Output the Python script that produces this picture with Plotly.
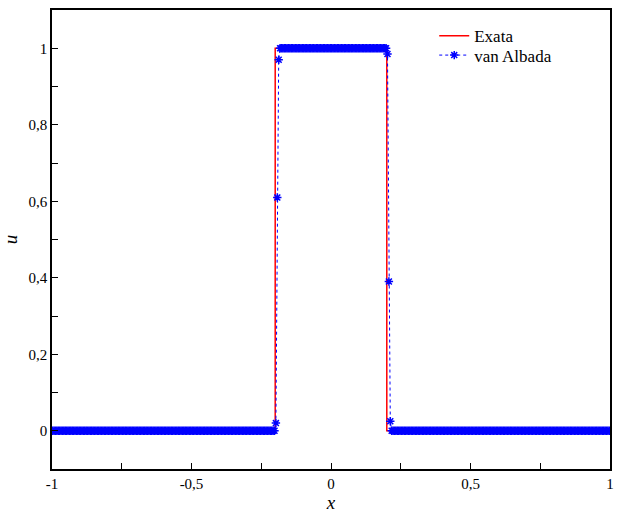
import plotly.graph_objects as go
import numpy as np

# Exact solution (square pulse)
x_exact = [-1.0, -0.2, -0.2, 0.2, 0.2, 1.0]
u_exact = [0.0, 0.0, 1.0, 1.0, 0.0, 0.0]

# van Albada numerical solution on a uniform mesh of 400 cells (cell centres)
n_cells = 400
x_num = np.round(np.linspace(-1 + 0.0025, 1 - 0.0025, n_cells), 4)
u_num = ([0.0] * 160 + [0.02, 0.61, 0.97] + [1.0] * 77
         + [0.985, 0.39, 0.025] + [0.0] * 157)

xtick_vals = [-1, -0.5, 0, 0.5, 1]
xtick_text = ["-1", "-0,5", "0", "0,5", "1"]
ytick_vals = [0, 0.2, 0.4, 0.6, 0.8, 1]
ytick_text = ["0", "0,2", "0,4", "0,6", "0,8", "1"]

FONT = "Liberation Serif, Times New Roman, Times, serif"

fig = go.Figure()
fig.add_trace(go.Scatter(x=x_exact, y=u_exact, mode="lines", name="Exata",
                         line=dict(color="#ff0000", width=1.5), legend="legend"))
fig.add_trace(go.Scatter(x=x_num, y=u_num, mode="lines+markers", name="van Albada",
                         line=dict(color="#0000ff", width=1, dash="dot"),
                         marker=dict(symbol="asterisk-open", size=7,
                                     line=dict(color="#0000ff", width=1.5)),
                         legend="legend2"))

axis_common = dict(showline=True, linecolor="black", linewidth=1.5, mirror=True,
                   showgrid=False, zeroline=False, ticks="inside", ticklen=6,
                   tickcolor="black", tickwidth=1,
                   tickfont=dict(family=FONT, size=15, color="black"))

fig.update_xaxes(range=[-1, 1], tickvals=xtick_vals, ticktext=xtick_text,
                 minor=dict(ticks="inside", dtick=0.25, tick0=-1, ticklen=6,
                            tickcolor="black"),
                 title=dict(text="<i>x</i>", font=dict(family=FONT, size=19, color="black"),
                            standoff=2),
                 **axis_common)
fig.update_yaxes(range=[-0.1, 1.1], tickvals=ytick_vals, ticktext=ytick_text,
                 minor=dict(ticks="inside", dtick=0.1, tick0=0, ticklen=6,
                            tickcolor="black"),
                 title=dict(text="<i>u</i>", font=dict(family=FONT, size=19, color="black"),
                            standoff=6),
                 **axis_common)

legend_common = dict(xanchor="left", yanchor="top", bgcolor="rgba(0,0,0,0)",
                     borderwidth=0, itemwidth=30,
                     font=dict(family=FONT, size=17, color="black"))

fig.update_layout(width=621, height=514,
                  margin=dict(l=52, r=7, t=10, b=38),
                  paper_bgcolor="white", plot_bgcolor="white",
                  font=dict(family=FONT),
                  showlegend=True,
                  legend=dict(x=0.685, y=0.982, **legend_common),
                  legend2=dict(x=0.685, y=0.940, **legend_common))

fig.write_html("out.html")
